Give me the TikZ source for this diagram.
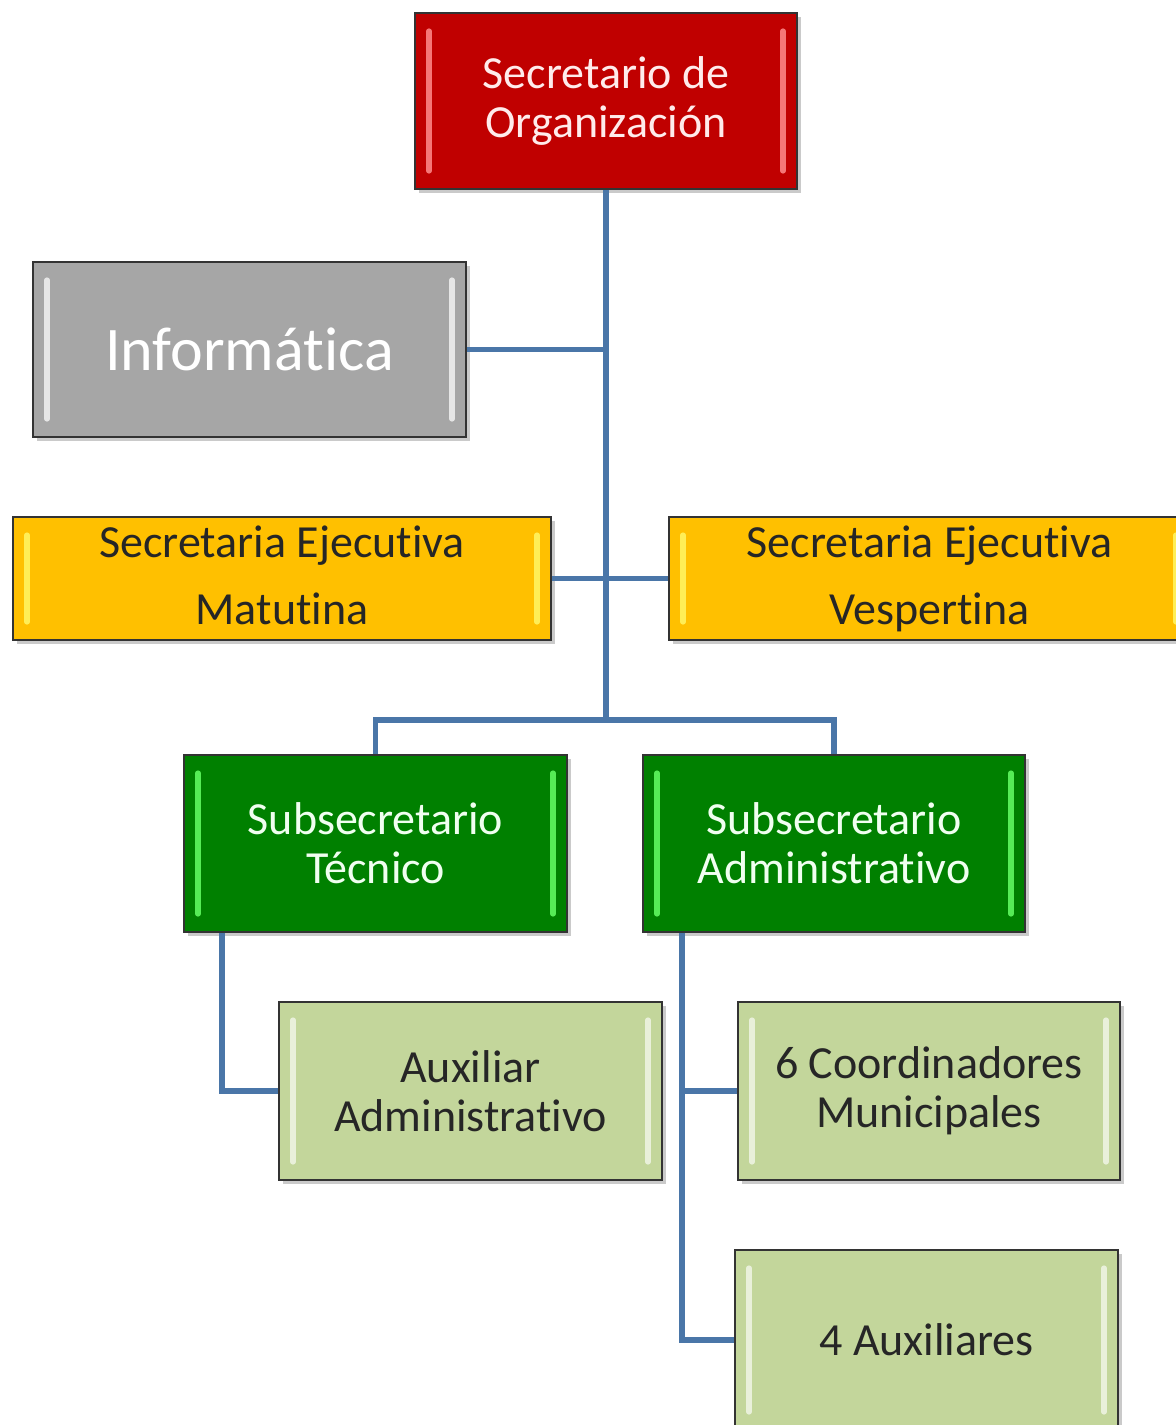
\documentclass[tikz,border=0pt]{standalone}
\usepackage{fontspec}
\setmainfont[Ligatures=NoCommon,Contextuals=NoAlternate,RawFeature={-liga;-calt;-dlig}]{Carlito}
\usetikzlibrary{shadows,calc}
\definecolor{cred}{HTML}{C00000}
\definecolor{cgray}{HTML}{A6A6A6}
\definecolor{cyellow}{HTML}{FFC000}
\definecolor{cgreen}{HTML}{008000}
\definecolor{clight}{HTML}{C3D69B}
\definecolor{cline}{HTML}{4A76A8}
\newcommand{\lowtext}[1]{\raisebox{-6pt}[0pt][0pt]{\begin{tabular}{@{}c@{}}#1\end{tabular}}}
\tikzset{
  orgbox/.style={draw=black!80, line width=0.9pt, align=center, inner sep=0pt,
    drop shadow={shadow xshift=2pt, shadow yshift=-2pt, opacity=0.35, fill=black!60},
    font=\fontsize{23}{24.5}\selectfont,
    path picture={
      \draw[#1, line width=2.6pt, line cap=round, opacity=0.85]
        ([xshift=7pt,yshift=-9pt]path picture bounding box.north west) --
        ([xshift=7pt,yshift=9pt]path picture bounding box.south west);
      \draw[#1, line width=2.6pt, line cap=round, opacity=0.85]
        ([xshift=-7pt,yshift=-9pt]path picture bounding box.north east) --
        ([xshift=-7pt,yshift=9pt]path picture bounding box.south east);
    }},
  redbox/.style={orgbox={red!45!white}, fill=cred, text=red!8!white},
  graybox/.style={orgbox={white!90!gray}, fill=cgray, text=white, font=\fontsize{31}{34}\selectfont},
  yellowbox/.style={orgbox={yellow!60!white}, fill=cyellow, text=black!85, font=\fontsize{23}{33.5}\selectfont},
  greenbox/.style={orgbox={green!60!white}, fill=cgreen, text=green!6!white},
  lightbox/.style={orgbox={white!75!clight}, fill=clight, text=black!85},
  conn/.style={draw=cline, line width=2.6pt}
}
\begin{document}
\begin{tikzpicture}[x=0.5pt,y=-0.5pt]
\useasboundingbox (0,0) rectangle (1176,1425);
\node[redbox, minimum width=191pt, minimum height=88pt] (sec) at (606,101) {Secretario de\\Organización};
\node[graybox, minimum width=216.5pt, minimum height=87.5pt] (inf) at (249.5,349.5) {Informática};
\node[yellowbox, minimum width=269pt, minimum height=61.5pt] (mat) at (282,578.5) {\lowtext{Secretaria Ejecutiva\\Matutina}};
\node[yellowbox, minimum width=260.5pt, minimum height=61.5pt] (ves) at (929.5,578.5) {\lowtext{Secretaria Ejecutiva\\Vespertina}};
\node[greenbox, minimum width=191.5pt, minimum height=88.5pt] (tec) at (375.5,843.5) {Subsecretario\\Técnico};
\node[greenbox, minimum width=191pt, minimum height=88.5pt] (adm) at (834,843.5) {Subsecretario\\Administrativo};
\node[lightbox, minimum width=191.5pt, minimum height=89pt] (aux) at (470.5,1091) {Auxiliar\\Administrativo};
\node[lightbox, minimum width=191pt, minimum height=89pt] (coo) at (929,1091) {6 Coordinadores\\Municipales};
\node[lightbox, minimum width=191.5pt, minimum height=90pt] (cua) at (926.5,1340) {4 Auxiliares};
\coordinate (tb) at (605,720);
\coordinate (lt) at (222,1091);
\coordinate (rt) at (682,1340);
\draw[conn] (sec.south) -- (sec.south |- tb) -| (tec.north);
\draw[conn] (sec.south |- tb) -| (adm.north);
\draw[conn] (inf.east) -- (inf.east -| sec.south);
\draw[conn] (mat.east) -- (ves.west);
\draw[conn] (tec.south -| lt) -- (lt) -- (aux.west);
\draw[conn] (adm.south -| rt) -- (rt) -- (cua.west);
\draw[conn] (coo.west -| rt) -- (coo.west);
\end{tikzpicture}
\end{document}
